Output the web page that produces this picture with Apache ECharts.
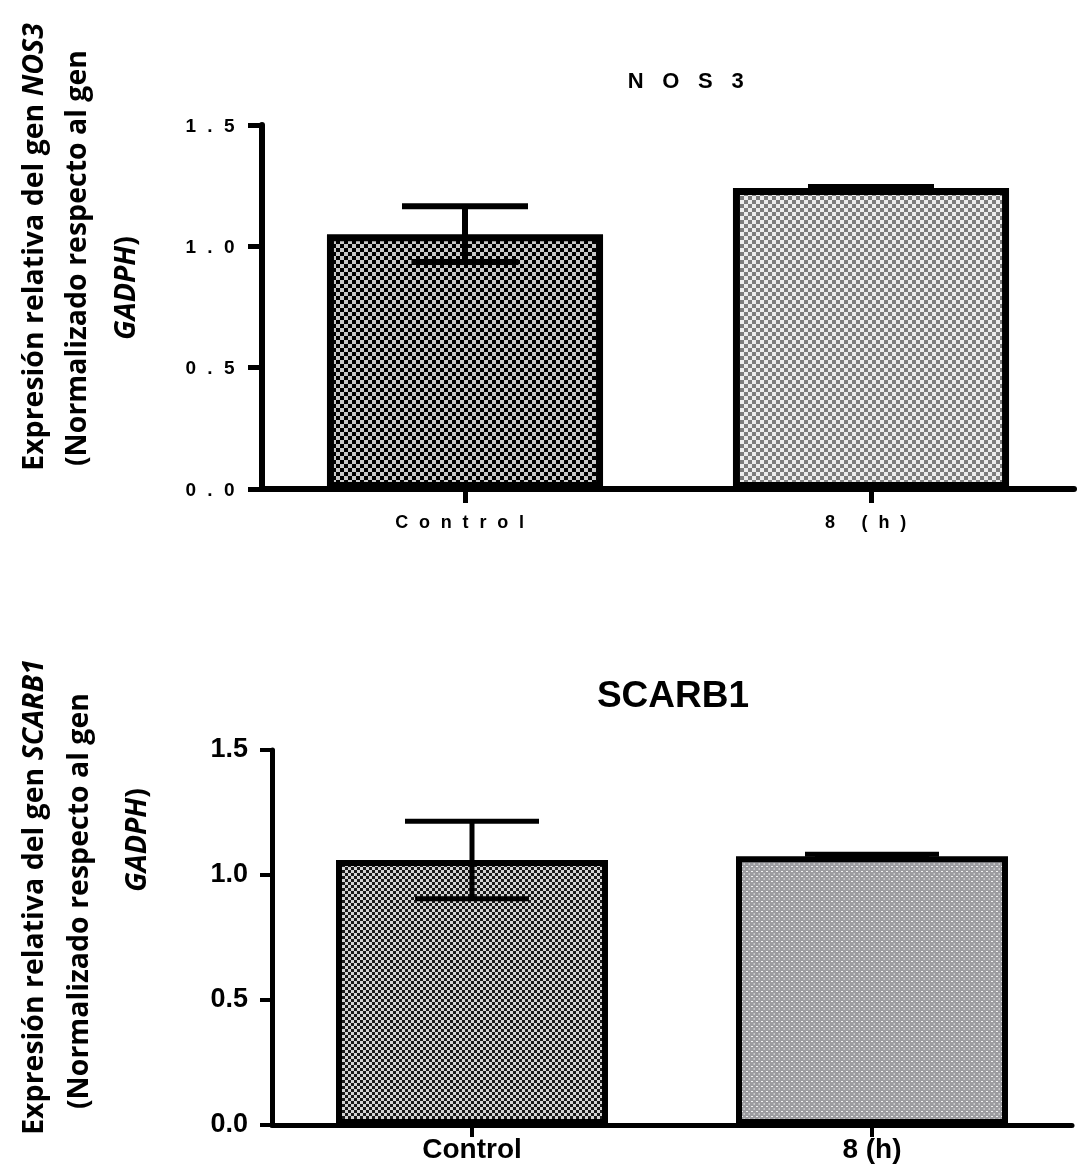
<!DOCTYPE html>
<html><head><meta charset="utf-8">
<script src="https://cdn.jsdelivr.net/npm/echarts@6/dist/echarts.min.js"></script>
<style>
html,body{margin:0;padding:0;background:#fff;}
#base{position:absolute;left:0;top:0;width:1078px;height:1171px;}
#top{position:absolute;left:0;top:0;width:1078px;height:560px;}
#top text{letter-spacing:0.6em;}
#top text[style*="22px"]{letter-spacing:0.85em;}
</style></head><body>
<div id="base"></div><div id="top"></div>
<script>
// ---- data ----
const categories = ['Control', '8 (h)'];
const nos3Values = [1.05, 1.24];
const nos3Errors = [0.115, 0.004];
const scarb1Values = [1.06, 1.075];
const scarb1Errors = [0.155, 0.008];
const yTickLabels = ['0.0', '0.5', '1.0', '1.5'];
const titleTop = 'NOS3';
const titleBottom = 'SCARB1';

// ---- patterns ----
function checker(cell, c1, c2) {
  const cv = document.createElement('canvas');
  cv.width = cell * 2; cv.height = cell * 2;
  const ctx = cv.getContext('2d');
  ctx.fillStyle = c2; ctx.fillRect(0, 0, cell * 2, cell * 2);
  ctx.fillStyle = c1; ctx.fillRect(0, 0, cell, cell); ctx.fillRect(cell, cell, cell, cell);
  return cv;
}
function dots(size, base, dot) {
  const cv = document.createElement('canvas');
  cv.width = size; cv.height = size;
  const ctx = cv.getContext('2d');
  ctx.fillStyle = base; ctx.fillRect(0, 0, size, size);
  ctx.fillStyle = dot;
  ctx.fillRect(1, 1, 2, 1);
  ctx.fillRect(1 + size / 2, 1 + size / 2, 2, 1);
  return cv;
}

function buildOption(cfg) {
  return {
    animation: false,
    backgroundColor: 'transparent',
    title: {
      text: cfg.title, left: cfg.titleX, top: cfg.titleY, textAlign: 'center',
      textStyle: { fontFamily: 'Liberation Sans, Arial', fontWeight: 'bold', fontSize: cfg.titleSize, color: '#000' }
    },
    grid: { left: cfg.left, top: cfg.top, width: cfg.width, height: cfg.height, containLabel: false },
    xAxis: {
      type: 'category', data: categories,
      axisLine: { lineStyle: { color: '#000', width: cfg.axisW } },
      axisTick: { show: true, alignWithLabel: true, length: cfg.tickLen, lineStyle: { color: '#000', width: cfg.axisW - 1 } },
      axisLabel: { margin: cfg.xMargin, color: '#000', fontFamily: 'Liberation Sans, Arial', fontWeight: 'bold', fontSize: cfg.xSize }
    },
    yAxis: {
      type: 'value', min: 0, max: 1.5, interval: 0.5,
      splitLine: { show: false },
      axisLine: { show: true, lineStyle: { color: '#000', width: cfg.axisW } },
      axisTick: { show: true, length: cfg.tickLen, lineStyle: { color: '#000', width: cfg.axisW - 1 } },
      axisLabel: {
        margin: cfg.yMargin, color: '#000', fontFamily: 'Liberation Sans, Arial', fontWeight: 'bold', fontSize: cfg.ySize,
        formatter: v => yTickLabels[Math.round(v / 0.5)]
      }
    },
    series: [
      {
        type: 'bar', barWidth: '68%',
        data: cfg.values.map((v, i) => ({
          value: v,
          itemStyle: { color: { image: cfg.patterns[i], repeat: 'repeat' }, borderColor: '#000', borderWidth: cfg.borderW }
        }))
      },
      {
        type: 'custom', z: 10,
        encode: { x: 0, y: 1 },
        data: cfg.values.map((v, i) => [i, v, cfg.errors[i]]),
        renderItem(params, api) {
          const x = api.value(0), v = api.value(1), e = api.value(2);
          const hi = api.coord([x, v + e]), lo = api.coord([x, v - e]);
          const h = cfg.capHalf;
          const style = { stroke: '#000', lineWidth: cfg.errW };
          return {
            type: 'group', children: [
              { type: 'line', shape: { x1: hi[0], y1: hi[1], x2: lo[0], y2: lo[1] }, style },
              { type: 'line', shape: { x1: hi[0] - h, y1: hi[1], x2: hi[0] + h, y2: hi[1] }, style },
              { type: 'line', shape: { x1: lo[0] - h * 0.85, y1: lo[1], x2: lo[0] + h * 0.85, y2: lo[1] }, style }
            ]
          };
        }
      }
    ]
  };
}

// ---- top chart (SVG, letter-spaced texts) ----
const topChart = echarts.init(document.getElementById('top'), null, { renderer: 'svg' });
topChart.setOption(buildOption({
  title: titleTop, titleX: 690, titleY: 64, titleSize: 22,
  left: 262, top: 125, width: 812, height: 364,
  axisW: 6, tickLen: 14, xMargin: 24, xSize: 18, yMargin: 16, ySize: 19,
  values: nos3Values, errors: nos3Errors, borderW: 7, errW: 6, capHalf: 63,
  patterns: [checker(4, '#000000', '#c8c8c8').toDataURL(), checker(4, '#7c7c7c', '#ececec').toDataURL()]
}));

// ---- bottom chart + rotated axis titles (canvas) ----
const base = echarts.init(document.getElementById('base'));
const opt = buildOption({
  title: titleBottom, titleX: 668, titleY: 673, titleSize: 37,
  left: 272, top: 750, width: 800, height: 375,
  axisW: 5, tickLen: 12, xMargin: 11, xSize: 28, yMargin: 24, ySize: 27,
  values: scarb1Values, errors: scarb1Errors, borderW: 6, errW: 5, capHalf: 67,
  patterns: [checker(3, '#1a1a1a', '#d4d4d4'), dots(5, '#9c9ca0', '#f2f2f2')]
});
const FS = 28.5;
const rich = {
  n: { fontFamily: 'Open Sans', fontWeight: 'bold', fontStyle: 'normal', fontSize: FS, fill: '#000' },
  i: { fontFamily: 'Open Sans', fontWeight: 'bold', fontStyle: 'italic', fontSize: FS, fill: '#000' }
};
function rtext(x, y, text) {
  return {
    type: 'text', x: x, y: y, rotation: Math.PI / 2,
    style: { text: text, rich: rich, align: 'center', verticalAlign: 'middle', fill: '#000',
      fontFamily: 'Open Sans', fontWeight: 'bold', fontSize: FS }
  };
}
opt.graphic = [
  rtext(35, 247, '{n|Expresión relativa del gen }{i|NOS3}'),
  rtext(78, 258, '{n|(Normalizado respecto al gen}'),
  rtext(127, 288, '{i|GADPH}{n|)}'),
  rtext(35, 897, '{n|Expresión relativa del gen }{i|SCARB1}'),
  rtext(80, 901, '{n|(Normalizado respecto al gen}'),
  rtext(138, 840, '{i|GADPH}{n|)}')
];
base.setOption(opt);
</script>
</body></html>
